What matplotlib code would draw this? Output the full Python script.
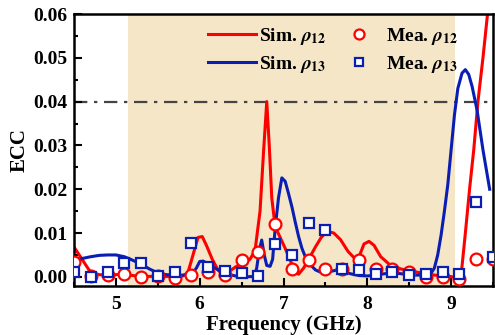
import numpy as np
import matplotlib
matplotlib.use('Agg')
import matplotlib.pyplot as plt

plt.rcParams['font.family'] = ['Liberation Serif', 'DejaVu Serif']
plt.rcParams['font.weight'] = 'bold'
plt.rcParams['mathtext.fontset'] = 'stix'

# simulated ECC
sim12_f = [4.50, 4.58, 4.63, 4.70, 4.80, 4.90, 5.00, 5.10, 5.20, 5.30, 5.40, 5.50,
           5.60, 5.70, 5.80, 5.86, 5.92, 5.98, 6.03, 6.08, 6.15, 6.22, 6.28, 6.35,
           6.43, 6.52, 6.60, 6.66, 6.72, 6.76, 6.80, 6.83, 6.86, 6.90, 6.96, 7.02,
           7.08, 7.14, 7.18, 7.24, 7.30, 7.38, 7.45, 7.52, 7.60, 7.68, 7.77, 7.84,
           7.90, 7.96, 8.02, 8.08, 8.16, 8.26, 8.40, 8.56, 8.72, 8.85, 8.95, 9.05,
           9.09, 9.12, 9.17, 9.22, 9.27, 9.32, 9.38, 9.44]
sim12 = [0.0068, 0.0045, 0.0030, 0.0010, 0.0005, 0.0004, 0.0005, 0.0006, 0.0003, 0.0001, 0.0001, 0.0002,
         0.0001, 0.0000, 0.0002, 0.0010, 0.0050, 0.0090, 0.0092, 0.0072, 0.0040, 0.0015, 0.0005, 0.0012,
         0.0023, 0.0032, 0.0040, 0.0060, 0.0150, 0.0280, 0.0400, 0.0300, 0.0180, 0.0115, 0.0090, 0.0065,
         0.0038, 0.0010, 0.0006, 0.0020, 0.0040, 0.0068, 0.0090, 0.0104, 0.0100, 0.0085, 0.0058, 0.0044,
         0.0045, 0.0075, 0.0081, 0.0072, 0.0046, 0.0029, 0.0018, 0.0012, 0.0006, 0.0003, 0.0002, -0.0001,
         -0.0003, 0.0005, 0.0100, 0.0200, 0.0290, 0.0400, 0.0500, 0.0610]

sim13_f = [4.50, 4.60, 4.70, 4.80, 4.90, 5.00, 5.10, 5.20, 5.30, 5.40, 5.50, 5.60,
           5.70, 5.80, 5.90, 5.96, 6.00, 6.04, 6.10, 6.16, 6.22, 6.28, 6.36, 6.45,
           6.55, 6.65, 6.68, 6.71, 6.74, 6.77, 6.80, 6.84, 6.87, 6.90, 6.94, 6.98,
           7.02, 7.06, 7.10, 7.14, 7.18, 7.22, 7.26, 7.32, 7.38, 7.45, 7.55, 7.65,
           7.72, 7.80, 7.90, 8.00, 8.10, 8.20, 8.32, 8.45, 8.56, 8.70, 8.76, 8.80,
           8.84, 8.88, 8.92, 8.96, 9.00, 9.04, 9.08, 9.13, 9.17, 9.21, 9.25, 9.31,
           9.38, 9.46]
sim13 = [0.0035, 0.0042, 0.0046, 0.0049, 0.0050, 0.0050, 0.0046, 0.0038, 0.0029, 0.0018, 0.0009, 0.0005,
         0.0004, 0.0004, 0.0005, 0.0020, 0.0035, 0.0036, 0.0030, 0.0022, 0.0016, 0.0011, 0.0005, 0.0001,
         0.0000, 0.0001, 0.0020, 0.0060, 0.0084, 0.0050, 0.0026, 0.0024, 0.0040, 0.0110, 0.0180, 0.0226,
         0.0218, 0.0190, 0.0160, 0.0125, 0.0092, 0.0065, 0.0046, 0.0028, 0.0016, 0.0010, 0.0012, 0.0016,
         0.0012, 0.0007, 0.0003, 0.0002, 0.0004, 0.0007, 0.0009, 0.0006, 0.0004, 0.0004, 0.0008, 0.0020,
         0.0050, 0.0095, 0.0150, 0.0210, 0.0290, 0.0370, 0.0430, 0.0465, 0.0473, 0.0462, 0.0435, 0.0380,
         0.0290, 0.0200]

# measured ECC
mea_f = [4.5, 4.7, 4.9, 5.1, 5.3, 5.5, 5.7, 5.9, 6.1, 6.3, 6.5, 6.7, 6.9,
         7.1, 7.3, 7.5, 7.7, 7.9, 8.1, 8.3, 8.5, 8.7, 8.9, 9.1, 9.3, 9.5]
mea12 = [0.0035, 0.0001, 0.0004, 0.0006, 0.0000, 0.0002, -0.0002, 0.0004, 0.0012, 0.0004, 0.0038, 0.0056, 0.0121,
         0.0018, 0.0038, 0.0018, 0.0019, 0.0038, 0.0018, 0.0019, 0.0012, -0.0001, -0.0001, -0.0004, 0.0040, 0.0040]
mea13 = [0.0012, -0.0001, 0.0012, 0.0032, 0.0032, 0.0002, 0.0012, 0.0078, 0.0023, 0.0014, 0.0009, 0.0003, 0.0075,
         0.0050, 0.0124, 0.0106, 0.0019, 0.0016, 0.0006, 0.0010, 0.0004, 0.0006, 0.0010, 0.0006, 0.0172, 0.0045]

red = '#FF0000'
blue = '#0A1EB4'

fig = plt.figure(figsize=(4.95, 3.35), dpi=100)
ax = fig.add_axes([0.1495, 0.1448, 0.8465, 0.8134])

ax.axvspan(5.15, 9.05, color='#F5E6C8', lw=0, zorder=0)
ax.axhline(0.04, color='#444444', lw=1.6, ls=(0, (6, 3, 1.5, 3)), zorder=1)

ax.plot(sim12_f, sim12, color=red, lw=2.2, label=r'Sim. $\rho_{12}$', zorder=2)
ax.plot(sim13_f, sim13, color=blue, lw=2.2, label=r'Sim. $\rho_{13}$', zorder=2)
ax.plot(mea_f, mea12, ls='none', marker='o', ms=8.5, mfc='white', mec=red, mew=1.6,
        label=r'Mea. $\rho_{12}$', zorder=3)
ax.plot(mea_f, mea13, ls='none', marker='s', ms=7.5, mfc='white', mec=blue, mew=1.6,
        label=r'Mea. $\rho_{13}$', zorder=4)

ax.set_xlim(4.5, 9.46)
ax.set_ylim(-0.0022, 0.06)
ax.set_xticks([5, 6, 7, 8, 9])
ax.set_xticks(np.arange(4.5, 9.6, 0.5), minor=True)
ax.set_yticks([0.00, 0.01, 0.02, 0.03, 0.04, 0.05, 0.06])
ax.set_yticklabels(['0.00', '0.01', '0.02', '0.03', '0.04', '0.05', '0.06'])
ax.set_yticks(np.arange(0.0, 0.0601, 0.005), minor=True)
ax.tick_params(which='both', direction='in', labelsize=14, width=1.5)
ax.tick_params(which='major', length=6, pad=5)
ax.tick_params(which='minor', length=3)
ax.tick_params(axis='x', pad=7)
for s in ax.spines.values():
    s.set_linewidth(1.8)

ax.set_xlabel('Frequency (GHz)', fontsize=15, fontweight='bold', labelpad=1)
ax.set_ylabel('ECC', fontsize=15, fontweight='bold', labelpad=2)

ax.legend(ncol=2, loc='upper right', bbox_to_anchor=(0.915, 0.955), frameon=False,
          fontsize=14, handlelength=2.5, handletextpad=0.15, columnspacing=0.4,
          labelspacing=0.35, borderpad=0, borderaxespad=0, markerscale=0.85)

fig.savefig('out.png', dpi=100)
